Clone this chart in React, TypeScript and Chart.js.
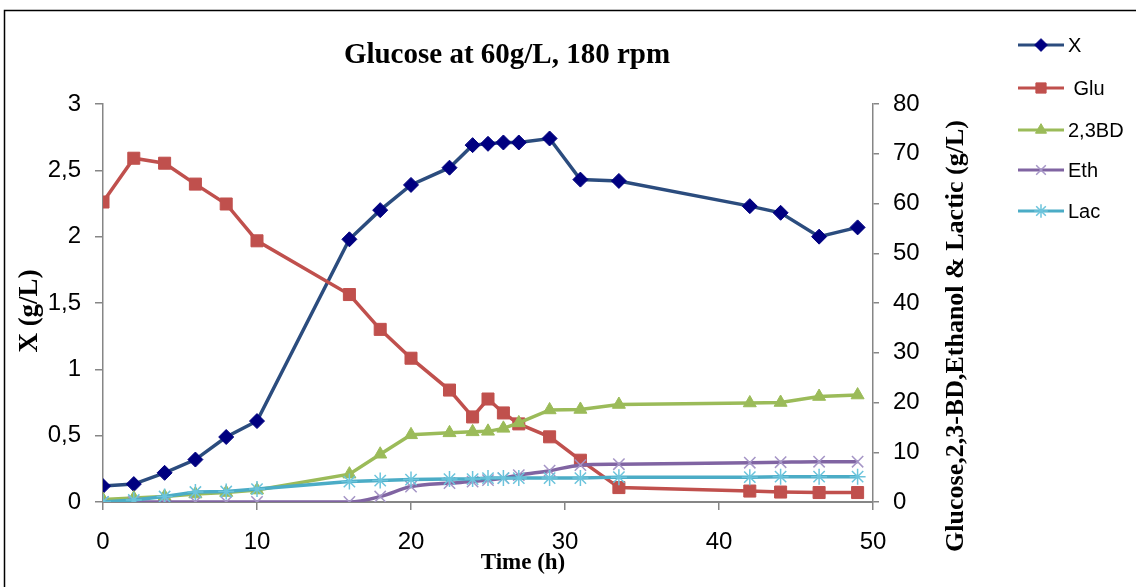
import { useEffect, useRef } from 'react';
import { Chart, registerables } from 'chart.js';
import { drawPoint } from 'chart.js/helpers';

Chart.register(...registerables);

const chartTitle = 'Glucose at 60g/L, 180 rpm';
const xTitle = 'Time (h)';
const yLeftTitle = 'X (g/L)';
const yRightTitle = 'Glucose,2,3-BD,Ethanol & Lactic (g/L)';

const timeH = [0, 2, 4, 6, 8, 10, 16, 18, 20, 22.5, 24, 25, 26, 27, 29, 31, 33.5, 42, 44, 46.5, 49];
const biomassX = [0.12, 0.135, 0.22, 0.32, 0.49, 0.61, 1.98, 2.2, 2.39, 2.52, 2.69, 2.7, 2.71, 2.71, 2.74, 2.43, 2.42, 2.23, 2.18, 2.0, 2.07];
const glucose = [60.3, 69.1, 68.1, 63.9, 59.9, 52.5, 41.7, 34.7, 28.9, 22.5, 17.1, 20.7, 17.9, 15.7, 13.1, 8.4, 2.9, 2.2, 2.0, 1.9, 1.9];
const butanediol = [0.5, 0.8, 1.1, 1.6, 1.9, 2.4, 5.6, 9.6, 13.5, 13.9, 14.1, 14.2, 14.8, 15.9, 18.5, 18.6, 19.6, 19.9, 20.0, 21.2, 21.5];
const ethanol = [0, 0, 0, 0, 0, 0, 0, 1.1, 3.1, 3.8, 4.1, 4.4, 4.8, 5.4, 6.3, 7.4, 7.6, 7.9, 8.0, 8.1, 8.1];
const lactic = [0, 0.4, 1.1, 2.0, 2.1, 2.6, 4.1, 4.3, 4.5, 4.6, 4.6, 4.8, 4.8, 4.8, 4.8, 4.8, 5.0, 5.0, 5.1, 5.1, 5.1];

const seriesLabels = ['X', ' Glu', '2,3BD', 'Eth', 'Lac'];
const leftTickLabels = ['0', '0,5', '1', '1,5', '2', '2,5', '3'];
const rightTickLabels = ['0', '10', '20', '30', '40', '50', '60', '70', '80'];
const xTickLabels = ['0', '10', '20', '30', '40', '50'];

const AXIS_GREY = '#868686';

const toPoints = (ys: number[]) => timeH.map((t, i) => ({ x: t, y: ys[i] }));

const decorPlugin = {
  id: 'decor',
  afterDraw(chart: any) {
    const ctx = chart.ctx as CanvasRenderingContext2D;
    ctx.save();
    // outer frame
    ctx.strokeStyle = '#000';
    ctx.lineWidth = 1.5;
    ctx.strokeRect(4.5, 10.5, 1300, 700);

    ctx.fillStyle = '#000';
    // title
    ctx.font = 'bold 29px "Liberation Serif"';
    ctx.textAlign = 'center';
    ctx.textBaseline = 'alphabetic';
    ctx.fillText(chartTitle, 507, 63);

    // x title
    ctx.font = 'bold 23px "Liberation Serif"';
    ctx.fillText(xTitle, 523, 569);

    // left title
    ctx.save();
    ctx.translate(30, 311);
    ctx.rotate(-Math.PI / 2);
    ctx.font = 'bold 27px "Liberation Serif"';
    ctx.textBaseline = 'middle';
    ctx.fillText(yLeftTitle, 0, 0);
    ctx.restore();

    // right title
    ctx.save();
    ctx.translate(956, 336);
    ctx.rotate(-Math.PI / 2);
    ctx.font = 'bold 26px "Liberation Serif"';
    ctx.textBaseline = 'middle';
    ctx.fillText(yRightTitle, 0, 0);
    ctx.restore();

    // legend
    const ys = [45, 88, 130, 170, 211];
    chart.data.datasets.forEach((ds: any, i: number) => {
      const y = ys[i];
      ctx.strokeStyle = ds.borderColor;
      ctx.lineWidth = 3;
      ctx.beginPath();
      ctx.moveTo(1018, y);
      ctx.lineTo(1064, y);
      ctx.stroke();
      ctx.fillStyle = ds.pointBackgroundColor;
      ctx.strokeStyle = ds.pointBorderColor;
      ctx.lineWidth = ds.pointBorderWidth;
      drawPoint(ctx, { pointStyle: ds.pointStyle, rotation: 0, borderWidth: ds.pointBorderWidth, radius: ds.pointRadius * 0.85 } as any, 1041, y);
      ctx.fillStyle = '#000';
      ctx.font = '20px "Liberation Sans"';
      ctx.textAlign = 'left';
      ctx.textBaseline = 'middle';
      ctx.fillText(seriesLabels[i], 1068, y + 1);
    });
    ctx.restore();
  },
};

export default function App() {
  const ref = useRef<HTMLCanvasElement | null>(null);

  useEffect(() => {
    if (!ref.current) return;
    const tickFont = { family: '"Liberation Sans"', size: 24 };
    const chart = new Chart(ref.current, {
      type: 'line',
      data: {
        datasets: [
          {
            label: seriesLabels[0],
            data: toPoints(biomassX),
            yAxisID: 'yL',
            borderColor: '#2B4C7E',
            borderWidth: 3.5,
            pointStyle: 'rectRot',
            pointRadius: 7.5,
            pointBackgroundColor: '#000080',
            pointBorderColor: '#000080',
            pointBorderWidth: 1,
            order: 5,
          },
          {
            label: seriesLabels[1],
            data: toPoints(glucose),
            yAxisID: 'yR',
            borderColor: '#C0504D',
            borderWidth: 3.5,
            pointStyle: 'rect',
            pointRadius: 8.5,
            pointBackgroundColor: '#C0504D',
            pointBorderColor: '#C0504D',
            pointBorderWidth: 1,
            order: 4,
          },
          {
            label: seriesLabels[2],
            data: toPoints(butanediol),
            yAxisID: 'yR',
            borderColor: '#9BBB59',
            borderWidth: 3.5,
            pointStyle: 'triangle',
            pointRadius: 7.5,
            pointBackgroundColor: '#9BBB59',
            pointBorderColor: '#9BBB59',
            pointBorderWidth: 1,
            order: 3,
          },
          {
            label: seriesLabels[3],
            data: toPoints(ethanol),
            yAxisID: 'yR',
            borderColor: '#8064A2',
            borderWidth: 3.5,
            cubicInterpolationMode: 'monotone',
            pointStyle: 'crossRot',
            pointRadius: 8,
            pointBackgroundColor: '#A595C6',
            pointBorderColor: '#A595C6',
            pointBorderWidth: 1.5,
            order: 2,
          },
          {
            label: seriesLabels[4],
            data: toPoints(lactic),
            yAxisID: 'yR',
            borderColor: '#4BACC6',
            borderWidth: 3.5,
            pointStyle: 'star',
            pointRadius: 8,
            pointBackgroundColor: '#6CC4DC',
            pointBorderColor: '#6CC4DC',
            pointBorderWidth: 1.5,
            order: 1,
          },
        ],
      },
      options: {
        responsive: false,
        animation: false,
        layout: { padding: { top: 104, left: 0, right: 163, bottom: 25 } },
        plugins: { legend: { display: false }, tooltip: { enabled: false } },
        scales: {
          x: {
            type: 'linear',
            min: 0,
            max: 50,
            afterFit: (s: any) => { s.height = 60; },
            afterBuildTicks: (s: any) => { s.ticks = xTickLabels.map((l) => ({ value: Number(l) })); },
            ticks: {
              font: tickFont,
              color: '#000',
              padding: 18,
              maxRotation: 0,
              autoSkip: false,
              callback: (_v: any, i: number) => xTickLabels[i],
            },
            grid: { drawOnChartArea: false, drawTicks: true, tickLength: 8, color: AXIS_GREY, lineWidth: 1.5 },
            border: { color: AXIS_GREY, width: 2 },
          },
          yL: {
            type: 'linear',
            position: 'left',
            min: 0,
            max: 3,
            afterFit: (s: any) => { s.width = 103; },
            afterBuildTicks: (s: any) => { s.ticks = leftTickLabels.map((l) => ({ value: Number(l.replace(',', '.')) })); },
            ticks: {
              font: tickFont,
              color: '#000',
              padding: 14,
              autoSkip: false,
              callback: (_v: any, i: number) => leftTickLabels[i],
            },
            grid: { drawOnChartArea: false, drawTicks: true, tickLength: 8, color: AXIS_GREY, lineWidth: 1.5 },
            border: { color: AXIS_GREY, width: 1.5 },
          },
          yR: {
            type: 'linear',
            position: 'right',
            min: 0,
            max: 80,
            afterFit: (s: any) => { s.width = 100; },
            afterBuildTicks: (s: any) => { s.ticks = rightTickLabels.map((l) => ({ value: Number(l) })); },
            ticks: {
              font: tickFont,
              color: '#000',
              padding: 14,
              autoSkip: false,
              callback: (_v: any, i: number) => rightTickLabels[i],
            },
            grid: { drawOnChartArea: false, drawTicks: true, tickLength: 6, color: AXIS_GREY, lineWidth: 1.5 },
            border: { color: AXIS_GREY, width: 1.5 },
          },
        },
      },
      plugins: [decorPlugin],
    } as any);
    return () => chart.destroy();
  }, []);

  return (
    <div style={{ position: 'fixed', left: 0, top: 0, width: 1136, height: 587, background: '#fff' }}>
      <canvas ref={ref} width={1136} height={587} style={{ display: 'block' }} />
    </div>
  );
}
